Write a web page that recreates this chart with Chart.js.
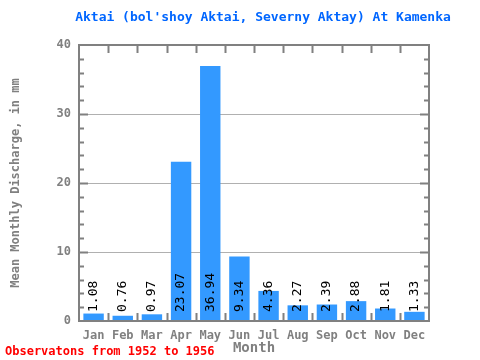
<!DOCTYPE html>
<html>
<head>
<meta charset="utf-8">
<script src="https://cdn.jsdelivr.net/npm/chart.js@4"></script>
<style>
  html, body { margin: 0; padding: 0; background: #fff; }
  #wrap { width: 480px; height: 360px; }
</style>
</head>
<body>
<div id="wrap"><canvas id="bar-chart" width="480" height="360"></canvas></div>
<script>
const months = ["Jan", "Feb", "Mar", "Apr", "May", "Jun", "Jul", "Aug", "Sep", "Oct", "Nov", "Dec"];
const discharge = [1.08, 0.76, 0.97, 23.07, 36.94, 9.34, 4.36, 2.27, 2.39, 2.88, 1.81, 1.33];
const yTicks = [0, 10, 20, 30, 40];

const mono = "'DejaVu Sans Mono', 'Liberation Mono', monospace";
const gray = "#808080";

// frame, inner ticks, title, footer and the value labels
const decor = {
  id: "decor",
  afterDatasetsDraw(chart) {
    const ctx = chart.ctx;
    const a = chart.chartArea;

    ctx.save();
    ctx.fillStyle = "#000";
    ctx.font = "13px " + mono;
    ctx.textAlign = "left";
    ctx.textBaseline = "middle";
    chart.getDatasetMeta(0).data.forEach((bar, i) => {
      ctx.save();
      ctx.translate(bar.x, a.bottom - 9);
      ctx.rotate(-Math.PI / 2);
      ctx.fillText(discharge[i].toFixed(2), 0, 0);
      ctx.restore();
    });
    ctx.restore();
  },
  afterDraw(chart) {
    const ctx = chart.ctx;
    const a = chart.chartArea;
    const y = chart.scales.y;
    ctx.save();
    ctx.strokeStyle = gray;
    ctx.lineWidth = 2;
    ctx.strokeRect(a.left, a.top, a.right - a.left, a.bottom - a.top);

    ctx.beginPath();
    for (let v = 2; v < 40; v += 2) {
      const py = Math.round(y.getPixelForValue(v)) + 0.5;
      const len = v % 10 === 0 ? 9 : 5;
      ctx.moveTo(a.left, py); ctx.lineTo(a.left + len, py);
      ctx.moveTo(a.right, py); ctx.lineTo(a.right - len, py);
    }
    const step = (a.right - a.left) / months.length;
    for (let i = 1; i < months.length; i++) {
      const px = Math.round(a.left + i * step) + 0.5;
      ctx.moveTo(px, a.top); ctx.lineTo(px, a.top + 8);
      ctx.moveTo(px, a.bottom); ctx.lineTo(px, a.bottom - 8);
    }
    ctx.stroke();

    ctx.textAlign = "center";
    ctx.textBaseline = "middle";
    ctx.fillStyle = "#0066ff";
    ctx.font = "bold 13px " + mono;
    ctx.fillText("Aktai (bol'shoy Aktai, Severny Aktay) At Kamenka", 263, 18);

    ctx.textAlign = "left";
    ctx.fillStyle = "#ff0000";
    ctx.font = "bold 12px " + mono;
    ctx.fillText("Observatons from 1952 to 1956", 5, 352);
    ctx.restore();
  }
};

new Chart(document.getElementById("bar-chart"), {
  type: "bar",
  data: {
    labels: months,
    datasets: [{
      data: discharge,
      backgroundColor: "#3399ff",
      categoryPercentage: 1,
      barPercentage: 0.7
    }]
  },
  options: {
    responsive: false,
    animation: false,
    layout: { padding: { top: 45, right: 51, left: 0, bottom: 0 } },
    plugins: {
      legend: { display: false },
      tooltip: { enabled: false }
    },
    scales: {
      x: {
        grid: { display: false },
        border: { display: false },
        ticks: { color: gray, font: { family: mono, size: 12, weight: "bold" }, padding: 0 },
        title: { display: true, text: "Month", color: gray, font: { family: mono, size: 14, weight: "bold" }, padding: { top: 0, bottom: 3 } },
        afterFit(scale) { scale.height = 39; }
      },
      y: {
        min: 0,
        max: 40,
        afterBuildTicks(scale) { scale.ticks = yTicks.map(v => ({ value: v })); },
        grid: {
          color: ctx => (ctx.tick.value === 0 || ctx.tick.value === 40) ? "rgba(0,0,0,0)" : "#b0b0b0",
          drawTicks: false
        },
        border: { display: false },
        ticks: { color: gray, font: { family: mono, size: 12, weight: "bold" }, padding: 8 },
        title: { display: true, text: "Mean Monthly Discharge, in mm", color: gray, font: { family: mono, size: 12, weight: "bold" }, padding: { top: 9, bottom: 0 } },
        afterFit(scale) { scale.width = 79; }
      }
    }
  },
  plugins: [decor]
});
</script>
</body>
</html>
